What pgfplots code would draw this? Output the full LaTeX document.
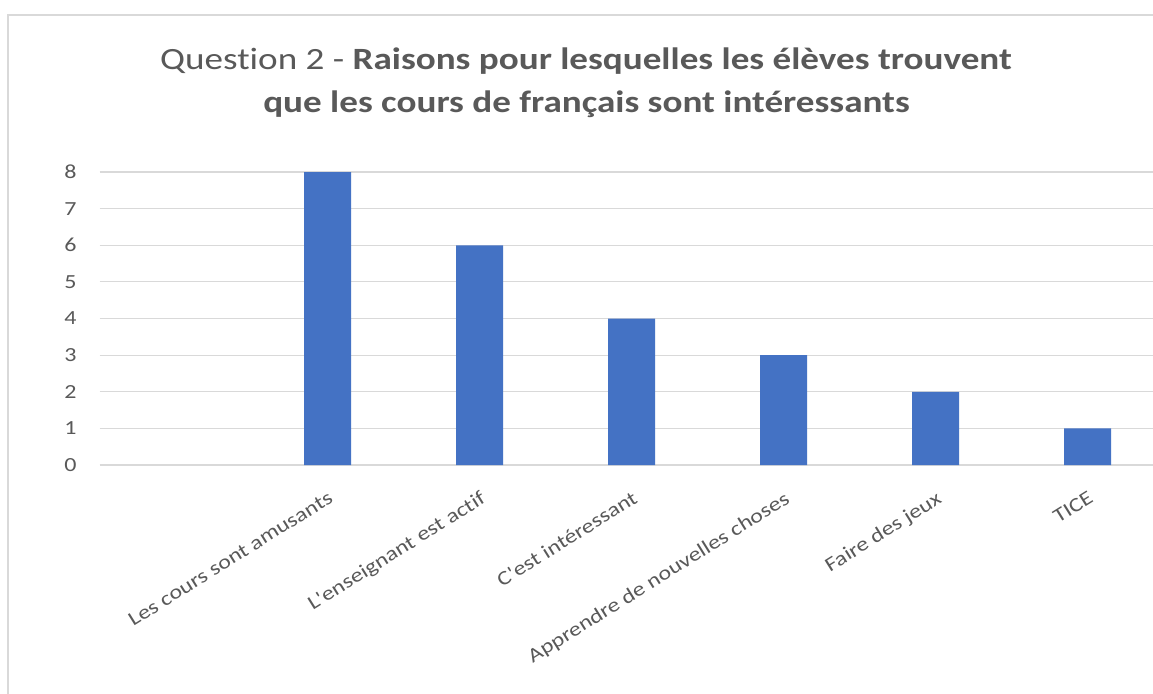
\documentclass[border=0pt]{standalone}
\usepackage{pgfplots}
\pgfplotsset{compat=1.18}
\usepackage{fontspec}
\setmainfont{Carlito}[FakeStretch=1.2, Ligatures={TeXOff,NoCommon}]
\definecolor{barblue}{HTML}{4472C4}
\definecolor{gridgray}{HTML}{D9D9D9}
\definecolor{txtgray}{HTML}{595959}
\begin{document}
\begin{tikzpicture}
\useasboundingbox (0,0) rectangle (864.75pt,519.75pt);
\clip (0,0) rectangle (864.75pt,519.75pt);
\fill[white] (0,0) rectangle (864.75pt,519.75pt);
\draw[gridgray, line width=0.9pt] (6pt,-5pt) -- (6pt,508.5pt) -- (880pt,508.5pt);
\begin{axis}[
  at={(74.625pt,171pt)}, anchor=south west,
  scale only axis, width=798pt, height=219.75pt,
  xmin=-0.5, xmax=6.5, ymin=0, ymax=8,
  ytick={0,...,8},
  xtick={1,...,6},
  xticklabels={Les cours sont amusants, L'enseignant est actif, C'est intéressant, Apprendre de nouvelles choses, Faire des jeux, TICE},
  axis line style={draw=none},
  major tick length=0pt,
  ymajorgrids, grid style={gridgray, line width=0.9pt},
  tick label style={font=\fontsize{15}{18}\selectfont, text=txtgray},
  yticklabel style={anchor=east, inner sep=0pt, xshift=-17pt},
  xticklabel style={yshift=-18.75pt, rotate=32, anchor=north east, inner sep=0pt},
  /pgf/number format/assume math mode=true,
  clip=false,
]
\addplot[ybar, bar width=35.25pt, fill=barblue, draw=none] coordinates {(1,8) (2,6) (3,4) (4,3) (5,2) (6,1)};
\end{axis}
\node[anchor=base, text=txtgray, font=\fontsize{23.2}{28}\selectfont, inner sep=0pt] at (439.5pt,467.25pt) {Question 2 - \textbf{Raisons pour lesquelles les élèves trouvent}};
\node[anchor=base, text=txtgray, font=\fontsize{23.2}{28}\selectfont, inner sep=0pt] at (439.9pt,435pt) {\textbf{que les cours de français sont intéressants}};
\end{tikzpicture}
\end{document}
